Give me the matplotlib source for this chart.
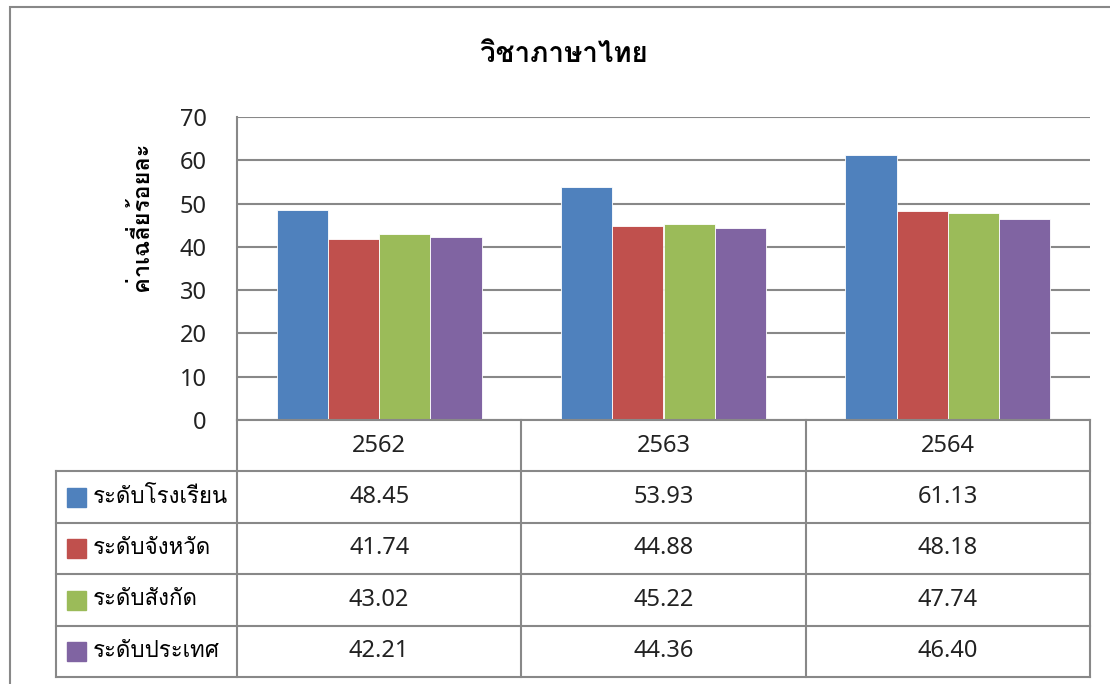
import matplotlib
matplotlib.use("Agg")
import matplotlib.pyplot as plt
from matplotlib.patches import Rectangle
import numpy as np

# ── Data ──────────────────────────────────────────────
years  = ["2562", "2563", "2564"]
series = ["ระดับโรงเรียน", "ระดับจังหวัด", "ระดับสังกัด", "ระดับประเทศ"]
school   = [48.45, 53.93, 61.13]
province = [41.74, 44.88, 48.18]
affil    = [43.02, 45.22, 47.74]
country  = [42.21, 44.36, 46.40]
values   = [school, province, affil, country]
colors   = ["#4F81BD", "#C0504D", "#9BBB59", "#8064A2"]
title    = "วิชาภาษาไทย"
ylabel   = "ค่าเฉลี่ยร้อยละ"

# Latin digits from Noto Sans, Thai glyphs fall back to Loma
plt.rcParams["font.family"] = ["Noto Sans", "Loma", "DejaVu Sans"]
THAI = ["Loma", "Noto Sans Thai", "DejaVu Sans"]
NUM_FS = 17

W, H = 1110, 684
fig = plt.figure(figsize=(W / 100, H / 100), dpi=100)

# outer chart border (right and bottom edges fall outside the image)
fig.patches.append(Rectangle((10 / W, -0.1), 1.2, 1.1 - 7 / H, transform=fig.transFigure,
                             fill=False, edgecolor="#888888", lw=1.5))

# ── Plot area ─────────────────────────────────────────
L, R, T, B = 237, 1090, 117, 420
ax = fig.add_axes([L / W, 1 - B / H, (R - L) / W, (B - T) / H])
x = np.arange(len(years))
bw = 0.18
for i, (vals, c) in enumerate(zip(values, colors)):
    ax.bar(x + (i - 1.5) * bw, vals, bw, color=c, edgecolor="white", lw=0.6, zorder=3)
ax.set_xlim(-0.5, len(years) - 0.5)
ax.set_ylim(0, 70)
ax.set_yticks(range(0, 71, 10))
ax.yaxis.grid(True, color="#888888", lw=1.5, zorder=0)
ax.set_xticks([])
ax.tick_params(axis="y", length=0, labelsize=NUM_FS, pad=22, labelcolor="#222222")
for s in ["top", "right", "bottom"]:
    ax.spines[s].set_visible(False)
ax.spines["left"].set_color("#888888")
ax.spines["left"].set_linewidth(1.5)

fig.text(141 / W, 1 - 216 / H, ylabel, rotation=90, ha="center", va="center",
         fontsize=17, fontweight="bold", family=THAI)
fig.text(564 / W, 1 - 55 / H, title, ha="center", va="center",
         fontsize=20, fontweight="bold", family=THAI)

# ── Data table ────────────────────────────────────────
TL = 56
tab = fig.add_axes([TL / W, 1 - 677 / H, (R - TL) / W, (677 - B) / H])
left_ext = -0.5 - (L - TL) / ((R - L) / 3)
tab.set_xlim(left_ext, len(years) - 0.5)
tab.set_ylim(len(series) + 1, 0)
tab.axis("off")
gc = "#888888"
tab.plot([-0.5, len(years) - 0.5], [0, 0], color=gc, lw=1.5, clip_on=False)
for r in range(1, len(series) + 2):
    tab.plot([left_ext, len(years) - 0.5], [r, r], color=gc, lw=1.5, clip_on=False)
tab.plot([left_ext, left_ext], [1, len(series) + 1], color=gc, lw=1.5, clip_on=False)
for k in range(len(years) + 1):
    tab.plot([k - 0.5, k - 0.5], [0, len(series) + 1], color=gc, lw=1.5, clip_on=False)
for k, yr in enumerate(years):
    tab.text(k, 0.5, yr, ha="center", va="center", fontsize=NUM_FS, color="#222222")
for r, (name, vals, c) in enumerate(zip(series, values, colors)):
    yc = r + 1.5
    tab.add_patch(Rectangle((left_ext + 0.04, yc - 0.18), 0.067, 0.37, color=c))
    tab.text(left_ext + 0.13, yc, name, ha="left", va="center", fontsize=16, family=THAI)
    for k, v in enumerate(vals):
        tab.text(k, yc, f"{v:.2f}", ha="center", va="center", fontsize=NUM_FS,
                 color="#222222")

fig.savefig("out.png", dpi=100)
